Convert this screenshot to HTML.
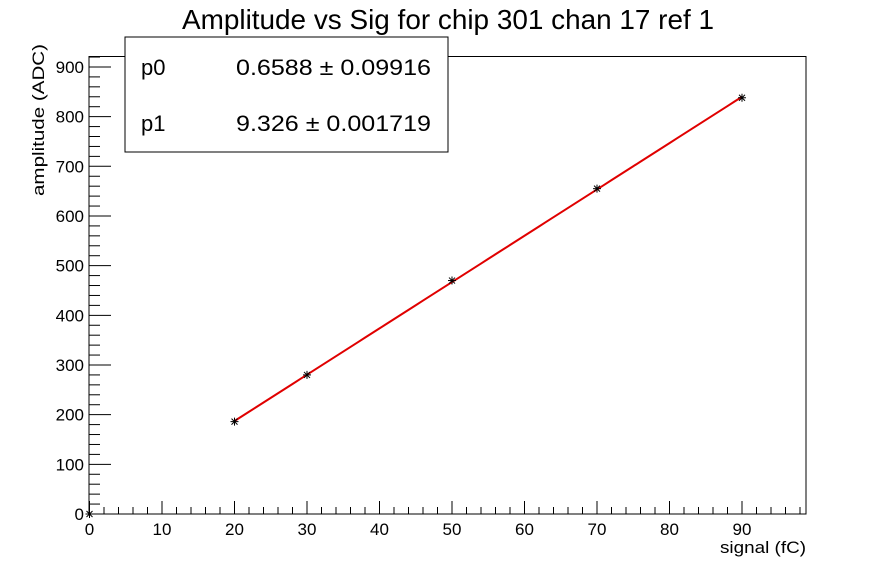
<!DOCTYPE html>
<html><head><meta charset="utf-8"><style>
html,body{margin:0;padding:0;background:#fff;}
svg{display:block;font-family:"Liberation Sans",Arial,sans-serif;}
</style></head><body>
<svg id="s" width="896" height="572" xmlns="http://www.w3.org/2000/svg">
<rect x="0" y="0" width="896" height="572" fill="#fff"/>
<text x="448" y="29" font-size="27.5" text-anchor="middle" textLength="532" lengthAdjust="spacingAndGlyphs">Amplitude vs Sig for chip 301 chan 17 ref 1</text>
<rect x="89" y="56.5" width="717" height="457.5" fill="none" stroke="#000" stroke-width="1"/>
<g id="ticks" stroke="#000" stroke-width="1"></g>
<g id="labels" font-size="17"></g>
<text x="806" y="553" font-size="17" text-anchor="end" textLength="86" lengthAdjust="spacingAndGlyphs">signal (fC)</text>
<text transform="translate(44,196) rotate(-90)" font-size="17" textLength="152" lengthAdjust="spacingAndGlyphs">amplitude (ADC)</text>
<polyline id="fit" fill="none" stroke="#e00000" stroke-width="2"/>
<g id="pts" stroke="#000" stroke-width="1"></g>
<rect x="125" y="37" width="323" height="115" fill="#fff" stroke="#000" stroke-width="1"/>
<text x="141" y="75" font-size="22">p0</text>
<text x="431" y="75" font-size="22" text-anchor="end" textLength="195" lengthAdjust="spacingAndGlyphs">0.6588 ± 0.09916</text>
<text x="141" y="131" font-size="22">p1</text>
<text x="431" y="131" font-size="22" text-anchor="end" textLength="195" lengthAdjust="spacingAndGlyphs">9.326 ± 0.001719</text>
</svg>
<script>
var NS="http://www.w3.org/2000/svg";
function X(v){return 89.5+v*7.25;}
function Y(v){return 514-v*0.4967;}
function el(p,t,a){var e=document.createElementNS(NS,t);for(var k in a)e.setAttribute(k,a[k]);document.getElementById(p).appendChild(e);return e;}
for(var v=0;v<=98;v+=2){var L=(v%10==0)?13:7;el("ticks","line",{x1:X(v),x2:X(v),y1:514,y2:514-L});}
for(var v=0;v<=90;v+=10){var t=el("labels","text",{x:X(v),y:535,"text-anchor":"middle"});t.textContent=v;}
for(var v=0;v<=920;v+=20){var L=(v%100==0)?22:11;el("ticks","line",{x1:89,x2:89+L,y1:Y(v),y2:Y(v)});}
for(var v=0;v<=900;v+=100){var t=el("labels","text",{x:84,y:Y(v)+6,"text-anchor":"end"});t.textContent=v;}
var pts=[];for(var x=20;x<=90;x+=1){pts.push(X(x)+","+Y(0.6588+9.326*x));}
document.getElementById("fit").setAttribute("points",pts.join(" "));
var d=[[0,0],[20,186],[30,280],[50,470],[70,655],[90,838]];
d.forEach(function(p){var cx=X(p[0]),cy=Y(p[1]),r=4;
el("pts","line",{x1:cx-r,x2:cx+r,y1:cy,y2:cy});el("pts","line",{x1:cx,x2:cx,y1:cy-r,y2:cy+r});
el("pts","line",{x1:cx-3,x2:cx+3,y1:cy-3,y2:cy+3});el("pts","line",{x1:cx-3,x2:cx+3,y1:cy+3,y2:cy-3});});
</script>
</body></html>
